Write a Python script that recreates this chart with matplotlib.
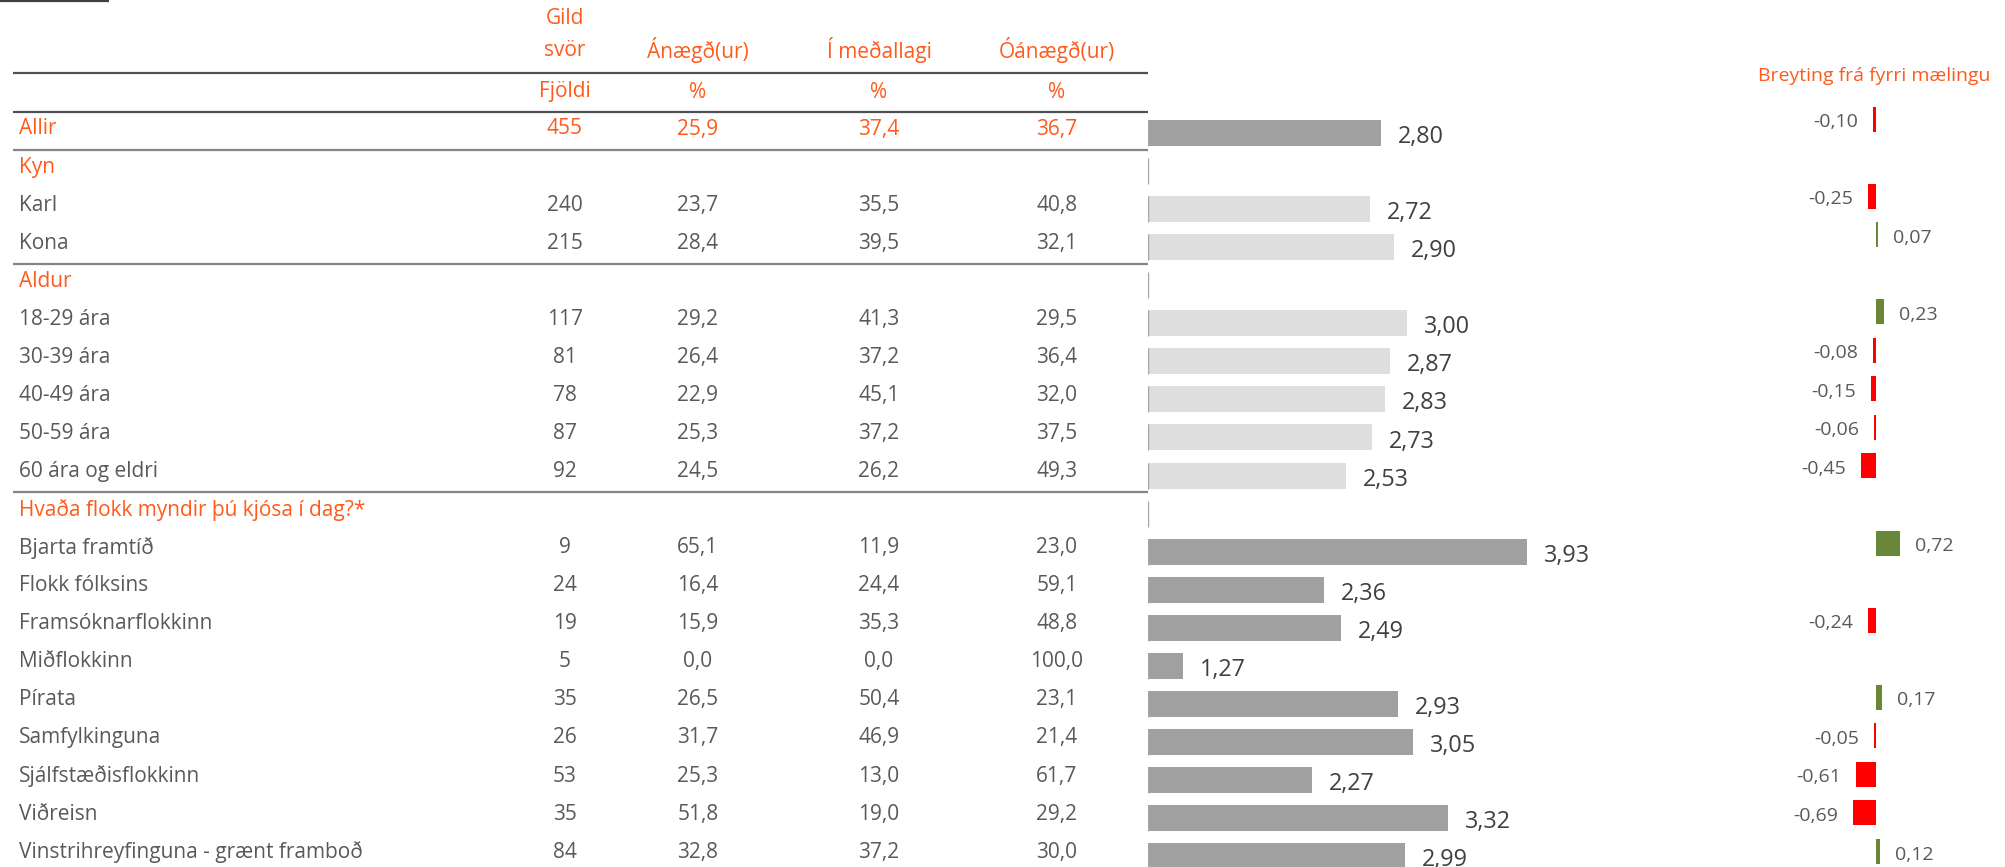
import matplotlib
matplotlib.use('Agg')
import matplotlib.pyplot as plt
import numpy as np

plt.rcParams['font.family'] = ['Open Sans', 'DejaVu Sans']

# ---------------- data ----------------
categories = ['Allir', 'Kyn', 'Karl', 'Kona', 'Aldur', '18-29 ára', '30-39 ára',
              '40-49 ára', '50-59 ára', '60 ára og eldri',
              'Hvaða flokk myndir þú kjósa í dag?*', 'Bjarta framtíð',
              'Flokk fólksins', 'Framsóknarflokkinn', 'Miðflokkinn', 'Pírata',
              'Samfylkinguna', 'Sjálfstæðisflokkinn', 'Viðreisn',
              'Vinstrihreyfinguna - grænt framboð']
row_kind = ['total', 'group', 'sub', 'sub', 'group', 'sub', 'sub', 'sub', 'sub', 'sub',
            'group', 'party', 'party', 'party', 'party', 'party', 'party', 'party',
            'party', 'party']
fjoldi = [455, None, 240, 215, None, 117, 81, 78, 87, 92, None,
          9, 24, 19, 5, 35, 26, 53, 35, 84]
anaegd = [25.9, None, 23.7, 28.4, None, 29.2, 26.4, 22.9, 25.3, 24.5, None,
          65.1, 16.4, 15.9, 0.0, 26.5, 31.7, 25.3, 51.8, 32.8]
medallagi = [37.4, None, 35.5, 39.5, None, 41.3, 37.2, 45.1, 37.2, 26.2, None,
             11.9, 24.4, 35.3, 0.0, 50.4, 46.9, 13.0, 19.0, 37.2]
oanaegd = [36.7, None, 40.8, 32.1, None, 29.5, 36.4, 32.0, 37.5, 49.3, None,
           23.0, 59.1, 48.8, 100.0, 23.1, 21.4, 61.7, 29.2, 30.0]
mean_score = [2.80, None, 2.72, 2.90, None, 3.00, 2.87, 2.83, 2.73, 2.53, None,
              3.93, 2.36, 2.49, 1.27, 2.93, 3.05, 2.27, 3.32, 2.99]
change = [-0.10, None, -0.25, 0.07, None, 0.23, -0.08, -0.15, -0.06, -0.45, None,
          0.72, None, -0.24, None, 0.17, -0.05, -0.61, -0.69, 0.12]

col_head1 = ['Gild', '', '', '']
col_head2 = ['svör', 'Ánægð(ur)', 'Í meðallagi', 'Óánægð(ur)']
col_units = ['Fjöldi', '%', '%', '%']
change_title = 'Breyting frá fyrri mælingu'

# ---------------- style ----------------
W, H, DPI = 2005, 867, 100
ORANGE = '#FF5A1A'
TXT = '#595959'
LBL = '#404040'
DARK_BAR = '#A0A0A0'
LIGHT_BAR = '#DEDEDE'
RED = '#FF0000'
GREEN = '#6A8737'

fig = plt.figure(figsize=(W / DPI, H / DPI), dpi=DPI)

ROW0, PITCH = 133.0, 38.06          # main rows: pixel centre of row 0, pitch
CROW0, CPITCH = 119.0, 38.55        # change-chart rows


def lims(y0, pitch):
    return ((H - y0) / pitch, -y0 / pitch)


def py(ypx):
    return (ypx - ROW0) / PITCH


idx = np.arange(len(categories))

# ---------------- table ----------------
axt = fig.add_axes([0, 0, 1, 1])
axt.set_xlim(0, W)
axt.set_ylim(*lims(ROW0, PITCH))
axt.axis('off')

FS_T = 15
col_x = [565, 698, 879, 1057]
for cx, h1, h2, u in zip(col_x, col_head1, col_head2, col_units):
    if h1:
        axt.text(cx, py(18), h1, color=ORANGE, fontsize=FS_T, ha='center', va='center')
    axt.text(cx, py(50), h2, color=ORANGE, fontsize=FS_T, ha='center', va='center')
    axt.text(cx, py(92), u, color=ORANGE, fontsize=FS_T, ha='center', va='center')

dy = -4 / PITCH
for i, (cat, kind) in enumerate(zip(categories, row_kind)):
    col = ORANGE if kind in ('total', 'group') else TXT
    axt.text(19, i + dy, cat, color=col, fontsize=FS_T, ha='left', va='center')
    if fjoldi[i] is None:
        continue
    vals = [str(fjoldi[i])] + [f'{v:.1f}'.replace('.', ',')
                               for v in (anaegd[i], medallagi[i], oanaegd[i])]
    for cx, s in zip(col_x, vals):
        axt.text(cx, i + dy, s, color=col, fontsize=FS_T, ha='center', va='center')

# horizontal rules
X_L, X_R = 13, 1148
axt.plot([0, 109], [py(1)] * 2, color='#404040', lw=1.6, solid_capstyle='butt')
for ypx, c in [(73, '#505050'), (112, '#505050'), (150, '#858585'),
               (263.5, '#858585'), (492, '#858585')]:
    axt.plot([X_L, X_R], [py(ypx)] * 2, color=c, lw=1.6, solid_capstyle='butt')

# ---------------- mean-score bars ----------------
BAR_X0, UNIT = 1148, 129.3
axb = fig.add_axes([BAR_X0 / W, 0, 4 * UNIT / W, 1])
axb.set_xlim(1, 5)
axb.set_ylim(*lims(ROW0, PITCH))
axb.axis('off')

for i, v in enumerate(mean_score):
    if v is None:
        continue
    c = LIGHT_BAR if row_kind[i] == 'sub' else DARK_BAR
    axb.barh(i, v - 1, left=1, height=26 / PITCH, color=c, edgecolor='none')
    axb.annotate(f'{v:.2f}'.replace('.', ','), (v, i), xytext=(12.2, -2.9),
                 textcoords='offset points', ha='left', va='center',
                 fontsize=16.8, color=LBL)
axb.vlines(np.full(len(idx), 1.0), idx - 13 / PITCH, idx + 13 / PITCH,
           color='#A6A6A6', lw=1)

# ---------------- change bars ----------------
C_ZERO, C_UNIT = 1876, 33.0
axc = fig.add_axes([1700 / W, 0, (W - 1700) / W, 1])
axc.set_xlim((1700 - C_ZERO) / C_UNIT, (W - C_ZERO) / C_UNIT)
axc.set_ylim(*lims(CROW0, CPITCH))
axc.axis('off')

axt.text(1874, py(76), change_title, color=ORANGE, fontsize=14, ha='center', va='center')

for i, v in enumerate(change):
    if v is None:
        continue
    c = GREEN if v > 0 else RED
    axc.barh(i, v, left=0, height=25 / CPITCH, color=c, edgecolor='none')
    s = f'{v:.2f}'.replace('.', ',')
    if v < 0:
        axc.annotate(s, (v, i), xytext=(-10.8, -2.2), textcoords='offset points',
                     ha='right', va='center', fontsize=14, color=TXT)
    else:
        axc.annotate(s, (v, i), xytext=(10.8, -2.2), textcoords='offset points',
                     ha='left', va='center', fontsize=14, color=TXT)

fig.savefig('out.png', dpi=DPI)
